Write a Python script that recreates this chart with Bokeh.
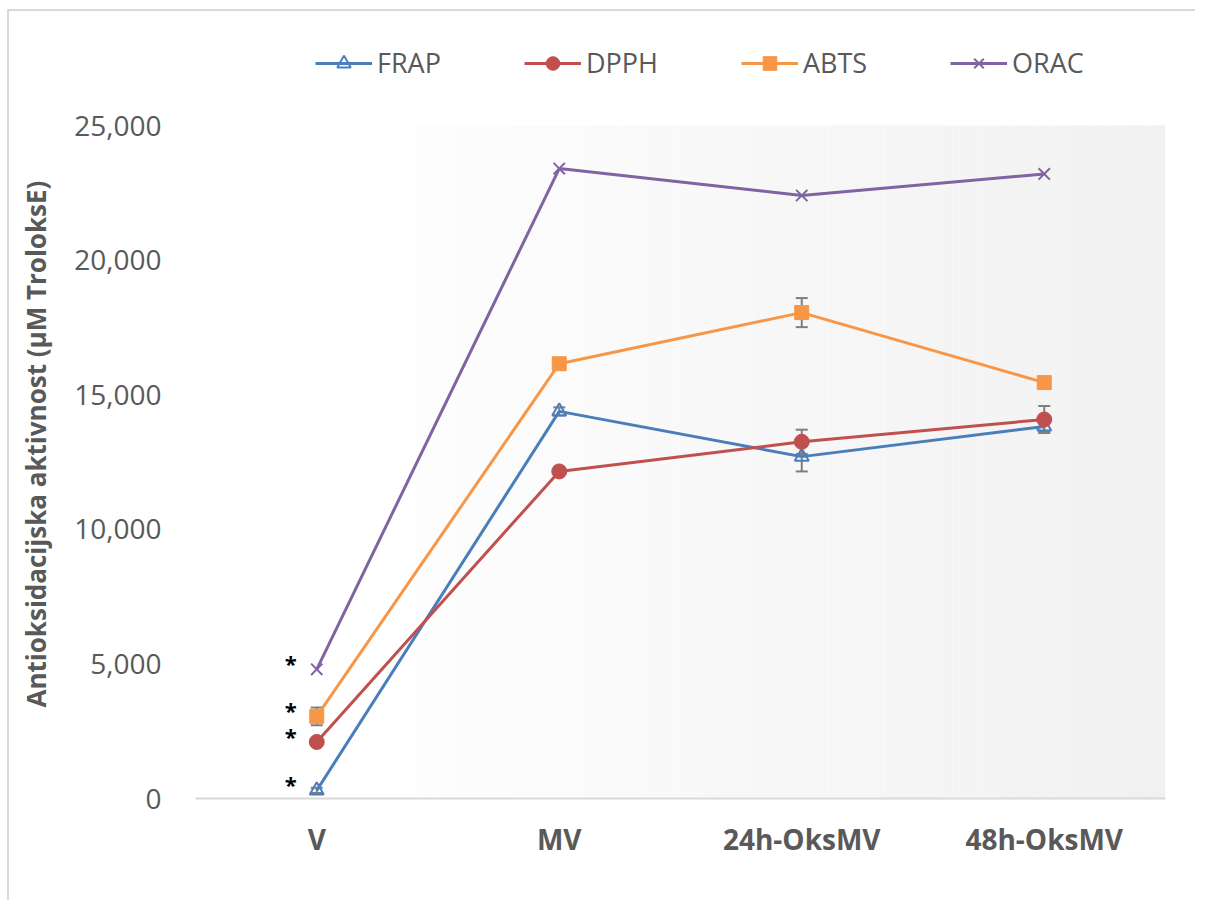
from bokeh.plotting import figure
from bokeh.models import (Range1d, FixedTicker, NumeralTickFormatter, Whisker,
                          ColumnDataSource, Legend, LegendItem, TeeHead, Title)
from bokeh.core.properties import value
from bokeh.embed import file_html
from bokeh.resources import INLINE

# ---- data ----
categories = ["V", "MV", "24h-OksMV", "48h-OksMV"]
frap = [300, 14380, 12700, 13820]
frap_err = [100, 150, 550, 200]
dpph = [2100, 12150, 13250, 14080]
dpph_err = [100, 100, 450, 500]
abts = [3050, 16150, 18050, 15450]
abts_err = [330, 120, 540, 120]
orac = [4800, 23400, 22400, 23200]
y_ticks = [0, 5000, 10000, 15000, 20000, 25000]
y_max = 25000

colors = {"FRAP": "#4a7ebb", "DPPH": "#c0504d", "ABTS": "#f79646", "ORAC": "#8064a2"}
FONT = "Open Sans"
GRAY = "#595959"

xs = list(range(len(categories)))

# layout: value axis 0..25000 occupies 673 px; frame extended upward to host the legend
W, H = 1188, 891
TOP, BOTTOM, LEFT, RIGHT = 7, 104, 186, 32
frame_h = H - TOP - BOTTOM
y_end = y_max * frame_h / 673.0

p = figure(width=W, height=H, x_range=Range1d(-0.5, len(categories) - 0.5),
           y_range=Range1d(0, y_end), output_backend="svg", toolbar_location=None,
           min_border_left=LEFT, min_border_right=RIGHT, min_border_top=TOP,
           min_border_bottom=BOTTOM)
p.outline_line_color = None
p.grid.visible = False
p.background_fill_color = "white"
p.border_fill_color = "white"
p.styles = {"margin-left": "7px", "margin-top": "9px",
            "border-left": "2px solid #d9d9d9", "border-top": "2px solid #d9d9d9"}

# background gradient (decoration)
n_bands = 40
x0, x1 = 0.412, len(categories) - 0.5
lefts, rights, bcols = [], [], []
for i in range(n_bands):
    a = x0 + (x1 - x0) * i / n_bands
    b = x0 + (x1 - x0) * (i + 1) / n_bands
    c = int(round(253 - (253 - 241) * i / (n_bands - 1)))
    lefts.append(a); rights.append(b); bcols.append("#%02x%02x%02x" % (c, c, c))
p.quad(left=lefts, right=rights, bottom=0, top=y_max, fill_color=bcols,
       line_color=None, level="image")

# error bars
def add_err(vals, errs):
    src = ColumnDataSource(dict(x=xs, upper=[v + e for v, e in zip(vals, errs)],
                                lower=[v - e for v, e in zip(vals, errs)]))
    w = Whisker(source=src, base="x", upper="upper", lower="lower",
                line_color="#7f7f7f", line_width=2, level="underlay",
                upper_head=TeeHead(size=12, line_color="#7f7f7f", line_width=2),
                lower_head=TeeHead(size=12, line_color="#7f7f7f", line_width=2))
    p.add_layout(w)

add_err(frap, frap_err)
add_err(dpph, dpph_err)
add_err(abts, abts_err)

items = []
l = p.line(xs, frap, line_color=colors["FRAP"], line_width=3)
s = p.scatter(xs, frap, marker="triangle", size=14, fill_color=None,
              line_color=colors["FRAP"], line_width=2)
items.append(LegendItem(label="FRAP", renderers=[l, s]))

l = p.line(xs, dpph, line_color=colors["DPPH"], line_width=3)
s = p.scatter(xs, dpph, marker="circle", size=15, fill_color=colors["DPPH"],
              line_color=colors["DPPH"])
items.append(LegendItem(label="DPPH", renderers=[l, s]))

l = p.line(xs, abts, line_color=colors["ABTS"], line_width=3)
s = p.scatter(xs, abts, marker="square", size=14, fill_color=colors["ABTS"],
              line_color=colors["ABTS"])
items.append(LegendItem(label="ABTS", renderers=[l, s]))

l = p.line(xs, orac, line_color=colors["ORAC"], line_width=3)
s = p.scatter(xs, orac, marker="x", size=16, line_color=colors["ORAC"], line_width=2)
items.append(LegendItem(label="ORAC", renderers=[l, s]))

# significance asterisks beside the V points
p.text(x=[0] * 4, y=[frap[0], dpph[0], abts[0], orac[0]], text=["*"] * 4,
       x_offset=-26, y_offset=-6, text_align="center", text_baseline="middle",
       text_font=value(FONT), text_font_size="22px", text_font_style="bold",
       text_color="black")

legend = Legend(items=items, orientation="horizontal", location=(120, 717),
                glyph_width=57, glyph_height=34, label_standoff=5, spacing=83,
                padding=0, margin=0, border_line_color=None, background_fill_alpha=0,
                label_text_font=FONT, label_text_font_size="27px", label_text_color=GRAY)
p.add_layout(legend, "center")

# axes
p.xaxis.ticker = FixedTicker(ticks=xs)
p.xaxis.major_label_overrides = {i: c for i, c in enumerate(categories)}
p.xaxis.axis_line_color = "#d9d9d9"
p.xaxis.axis_line_width = 2
p.xaxis.major_tick_line_color = None
p.xaxis.minor_tick_line_color = None
p.xaxis.major_label_standoff = 15
p.xaxis.major_label_text_font = FONT
p.xaxis.major_label_text_font_size = "28px"
p.xaxis.major_label_text_font_style = "bold"
p.xaxis.major_label_text_color = GRAY

p.yaxis.ticker = FixedTicker(ticks=y_ticks)
p.yaxis.formatter = NumeralTickFormatter(format="0,0")
p.yaxis.axis_line_color = None
p.yaxis.major_tick_line_color = None
p.yaxis.minor_tick_line_color = None
p.yaxis.major_label_standoff = 28
p.yaxis.major_label_text_font = FONT
p.yaxis.major_label_text_font_size = "28px"
p.yaxis.major_label_text_color = GRAY

# spacer between tick labels and the axis title
spacer = Title(text=" ", text_font_size="1px", standoff=10)
p.add_layout(spacer, "left")
ytitle = Title(text="Antioksidacijska aktivnost (µM TroloksE)", align="left", offset=91,
               standoff=10, text_font=FONT, text_font_size="26px",
               text_font_style="bold", text_color=GRAY)
p.add_layout(ytitle, "left")

open("out.html", "w").write(file_html(p, INLINE))
